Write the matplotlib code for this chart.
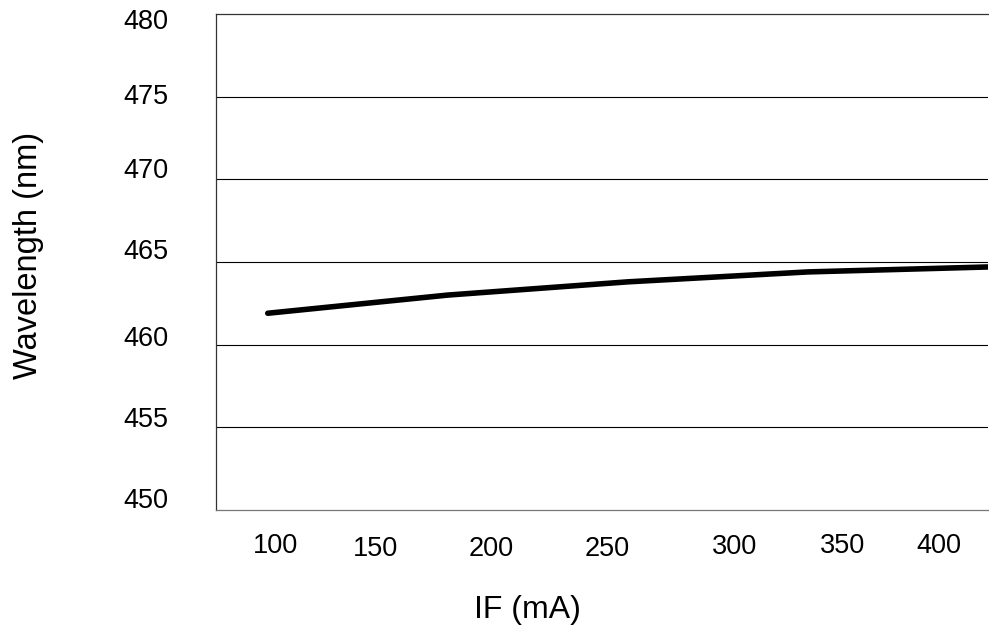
import matplotlib
matplotlib.use("Agg")
import matplotlib.pyplot as plt
import matplotlib.transforms as mtransforms

# Data
current_ma = [100, 180, 260, 340, 420]
wavelength_nm = [461.9, 463.0, 463.8, 464.4, 464.7]
x_ticks = [100, 150, 200, 250, 300, 350, 400]
y_ticks = [450, 455, 460, 465, 470, 475, 480]

plt.rcParams['font.family'] = ['Liberation Sans', 'DejaVu Sans']

fig = plt.figure(figsize=(9.89, 6.31), dpi=100)
ax = fig.add_axes([216/989, (631-510)/631, (988-216)/989, 496/631])

ax.plot(current_ma, wavelength_nm, color='black', lw=4.0,
        solid_capstyle='round', solid_joinstyle='round', zorder=3)

ax.set_xlim(77, 420)
ax.set_ylim(450, 480)
ax.set_xticks(x_ticks)
ax.set_xticklabels([str(v) for v in x_ticks])
ax.set_yticks(y_ticks)
ax.set_yticklabels([str(v) for v in y_ticks])

for y in y_ticks[1:-1]:
    ax.axhline(y, color='black', lw=0.8, zorder=1)

ax.tick_params(axis='both', length=0, labelsize=19.5, colors='black')
ax.tick_params(axis='x', pad=17)
ax.tick_params(axis='y', pad=34)

# label nudges (pixels) to mimic the hand-placed labels
x_nudge = [8, -5, -2, 2, 17, 12, -4]
x_vnudge = [1, -2, -2, -2, 0, 1, 1]
for lab, dx, dy in zip(ax.get_xticklabels(), x_nudge, x_vnudge):
    lab.set_transform(lab.get_transform() +
                      mtransforms.ScaledTranslation(dx/100, dy/100, fig.dpi_scale_trans))
y_nudge = [12, 10, 9, 13, 11, 3, -5]
for lab, dy in zip(ax.get_yticklabels(), y_nudge):
    lab.set_transform(lab.get_transform() +
                      mtransforms.ScaledTranslation(0, dy/100, fig.dpi_scale_trans))

for side in ['left', 'top', 'bottom']:
    ax.spines[side].set_linewidth(0.9)
    ax.spines[side].set_color('#333333')
ax.spines['bottom'].set_color('#777777')
ax.spines['right'].set_visible(False)

ax.set_xlabel('IF (mA)', fontsize=23)
ax.xaxis.label.set_verticalalignment('center')
ax.xaxis.set_label_coords(0.404, -0.2016)
ax.set_ylabel('Wavelength (nm)', fontsize=23.5)
ax.yaxis.label.set_verticalalignment('center')
ax.yaxis.set_label_coords(-0.2435, 0.514)

fig.savefig('out.png', dpi=100)
